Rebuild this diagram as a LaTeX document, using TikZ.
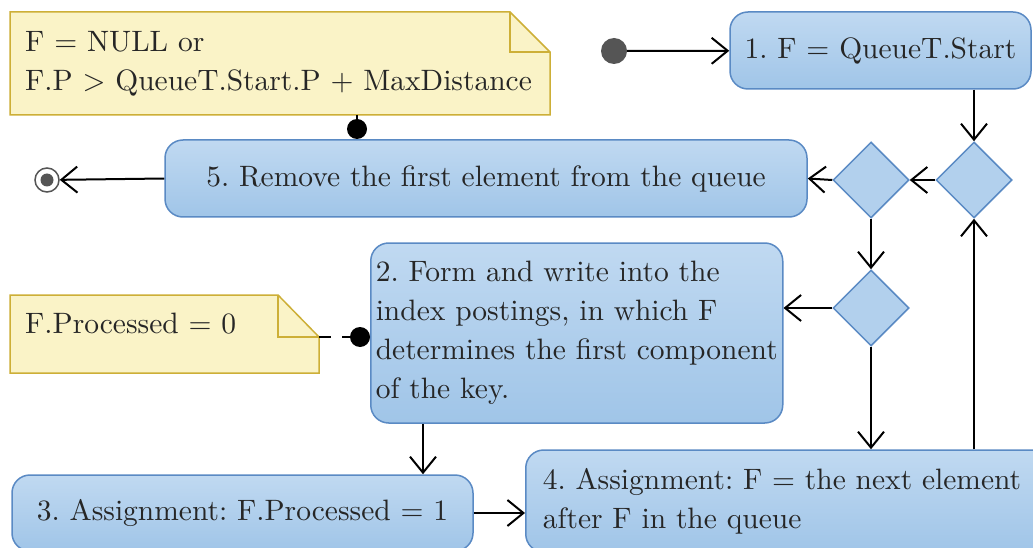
\documentclass[tikz,border=0pt]{standalone}
\usepackage{fontspec}
\setmainfont{lmroman10-regular}[Extension=.otf]
\usetikzlibrary{arrows.meta,shapes.geometric}
\definecolor{boxtop}{RGB}{192,217,241}
\definecolor{boxbot}{RGB}{160,197,232}
\definecolor{boxline}{RGB}{90,138,196}
\definecolor{diafill}{RGB}{178,208,237}
\definecolor{notefill}{RGB}{250,243,199}
\definecolor{noteline}{RGB}{205,175,55}
\definecolor{txt}{RGB}{38,38,38}
\definecolor{dotgray}{RGB}{85,85,85}
\frenchspacing
\begin{document}
\begin{tikzpicture}[x=1pt,y=-1pt,
  font=\fontsize{29.5}{39}\selectfont,
  act/.style={draw=boxline, line width=1.5pt, rounded corners=18pt,
    top color=boxtop, bottom color=boxbot, inner sep=0pt, text=txt},
  dec/.style={diamond, draw=boxline, line width=1.5pt, fill=diafill,
    minimum width=76pt, minimum height=76pt, inner sep=0pt},
  flow/.style={draw=black, line width=2pt, -{Straight Barb[length=16pt,width=26pt]}},
  note/.style={draw=noteline, line width=1.5pt, fill=notefill},
  fold/.style={draw=noteline, line width=1.5pt},
  link/.style={draw=black, line width=2pt},
  pin/.style={circle, fill=black, minimum size=20pt, inner sep=0pt},
  notetext/.style={text=txt, inner sep=0pt, align=left}]
\clip (0,0) rectangle (1033,548);
\fill[white] (0,0) rectangle (1033,548);

% notes
\path[note] (10,12) -- (510,12) -- (550,52) -- (550,115) -- (10,115) -- cycle;
\path[fold] (510,12) -- (510,52) -- (550,52);
\node[notetext, anchor=west] (note1) at (25,64) {F = NULL or\\F.P > QueueT.Start.P + MaxDistance};
\coordinate (note1b) at (357,115);

\path[note] (10,295) -- (278,295) -- (319,337) -- (319,373) -- (10,373) -- cycle;
\path[fold] (278,295) -- (278,337) -- (319,337);
\node[notetext, anchor=base west] (note2) at (25,333) {F.Processed = 0};
\coordinate (note2r) at (319,337);

% activities
\node[act, minimum width=301pt, minimum height=77pt] (n1) at (880.5,50.5) {1. F = QueueT.Start};
\node[act, minimum width=642pt, minimum height=77pt] (n5) at (486,178.5) {5. Remove the first element from the queue};
\node[act, anchor=west, minimum width=412pt, minimum height=180pt, inner xsep=4pt, align=left] (n2) at (370,333)
  {2. Form and write into the\\index postings, in which F\\determines the first component\\of the key.};
\node[act, minimum width=461pt, minimum height=76pt] (n3) at (242.5,513) {3. Assignment: F.Processed = 1};
\node[act, anchor=west, minimum height=102pt, inner xsep=17pt, text width=490pt, align=left] (n4) at (525,501)
  {4. Assignment: F = the next element\\after F in the queue};

% decisions
\node[dec] (d1) at (974,180) {};
\node[dec] (d2) at (871,180) {};
\node[dec] (d3) at (871,308) {};

% initial / final
\node[circle, fill=dotgray, minimum size=26pt, inner sep=0pt] (init) at (614,51) {};
\node[circle, draw=dotgray, line width=1.5pt, fill=white, minimum size=24pt, inner sep=0pt] (fin) at (47,180) {};
\fill[dotgray] (fin.center) circle (6.5pt);

% pins
\node[pin] (pin1) at (357,129) {};
\node[pin] (pin2) at (360,337) {};
\draw[link] (note1b) -- (pin1);
\draw[link, dash pattern=on 12pt off 11pt] (note2r) -- (pin2);

% flows
\coordinate (c2) at (423,0);
\draw[flow] (init) -- (n1);
\draw[flow] (d1.north |- n1.south) -- (d1.north);
\draw[flow] (d1.west) -- (d2.east);
\draw[flow] (d2.west) -- (n5.east);
\draw[flow] (n5.west) -- (fin);
\draw[flow] (d2.south) -- (d3.north);
\draw[flow] (d3.west) -- (d3.west -| n2.east);
\draw[flow] (d3.south) -- (d3.south |- n4.north);
\draw[flow] (c2 |- n2.south) -- (c2 |- n3.north);
\draw[flow] (n3.east) -- (n3.east -| n4.west);
\draw[flow] (d1.south |- n4.north) -- (d1.south);
\end{tikzpicture}
\end{document}
